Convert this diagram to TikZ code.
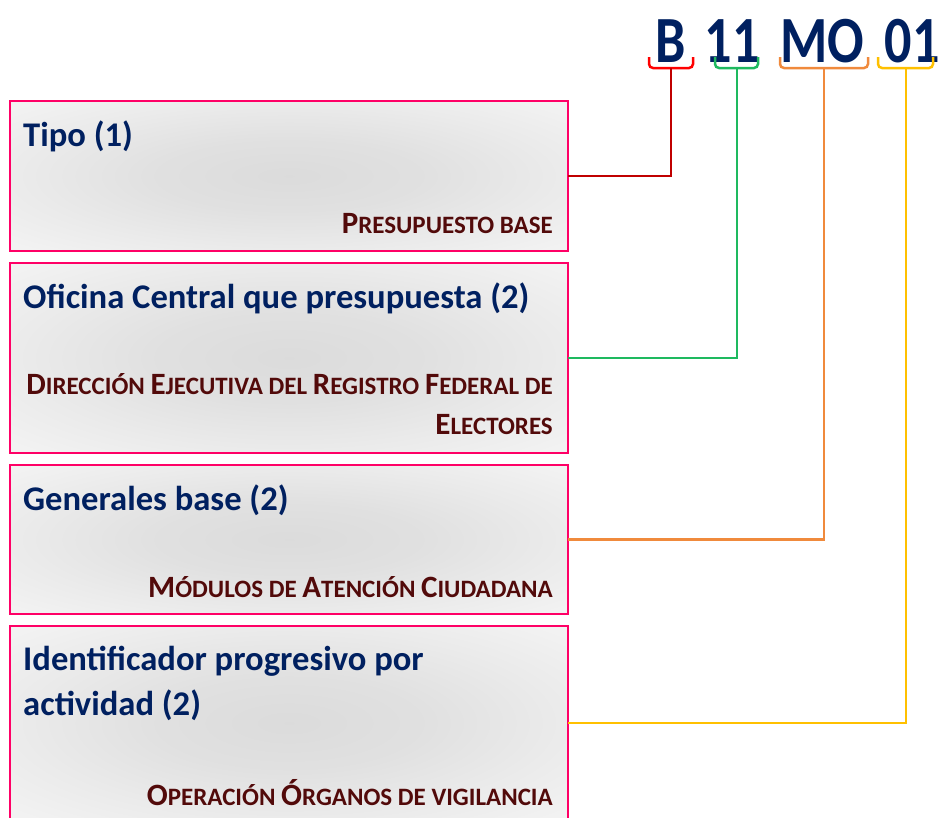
\documentclass[tikz,border=0pt]{standalone}
\usepackage{fontspec}
\setmainfont{Carlito}
\usepackage{tikz}
\usetikzlibrary{positioning}
\usepackage{xcolor}
\definecolor{ineblue}{RGB}{0,32,96}
\definecolor{inemaroon}{RGB}{82,10,10}
\definecolor{inepink}{RGB}{255,0,102}
\definecolor{kred}{RGB}{255,0,0}
\definecolor{kdred}{RGB}{192,0,0}
\definecolor{kgreen}{RGB}{30,185,95}
\definecolor{korange}{RGB}{240,138,60}
\definecolor{kyellow}{RGB}{255,192,0}
\pgfdeclareradialshading{boxglow}{\pgfpoint{0bp}{0bp}}{color(0bp)=(black!14); color(12bp)=(black!12); color(24bp)=(black!8); color(34bp)=(black!5); color(50bp)=(black!5)}
\newcommand{\sci}[1]{{\fontsize{31}{40}\selectfont #1}}  % big first letter of small caps
\newcommand{\narrow}[1]{\scalebox{0.82}[1]{#1}}          % the code letters are condensed

\begin{document}
\begin{tikzpicture}[
    x=1pt, y=-1pt,       % one unit = one pixel, y going down
    node distance=12pt,
    box/.style = {draw=inepink, line width=2.5pt, shading=boxglow, minimum width=558pt, inner sep=0pt, outer sep=0pt},
    title/.style = {font=\fontsize{34.6}{45}\selectfont\bfseries, text=ineblue, inner sep=0pt, align=left},
    sub/.style = {font=\fontsize{25}{40}\selectfont\bfseries, text=inemaroon, inner sep=0pt, align=right, text depth=0pt, anchor=south east},
    code/.style = {font=\fontsize{66}{66}\selectfont\bfseries, text=ineblue, inner sep=0pt, anchor=base},
    brace/.style = {line width=2.5pt, rounded corners=4pt},
    link/.style = {line width=2.5pt}
  ]
    \useasboundingbox (0,0) rectangle (941,817);

    % the four boxes
    \node[box, minimum height=150pt, anchor=north west] (tipo) at (10,101) {};
    \node[box, minimum height=190pt] (ofi) [below=of tipo] {};
    \node[box, minimum height=149pt] (gen) [below=of ofi] {};
    \node[box, minimum height=194pt] (ide) [below=of gen] {};   % runs past the bottom edge

    \node[title, anchor=base west] (tipoT) at ([shift={(13,45)}]tipo.north west) {Tipo (1)};
    \node[title, anchor=base west] (ofiT) at ([shift={(13,45)}]ofi.north west) {Oficina Central que presupuesta (2)};
    \node[title, anchor=base west] (genT) at ([shift={(13,45)}]gen.north west) {Generales base (2)};
    \node[title, anchor=south west, text depth=0pt] (ideT) at ([shift={(13,90)}]ide.north west) {Identificador progresivo por\\actividad (2)};

    \node[sub] (tipoS) at ([shift={(-15,-17)}]tipo.south east) {\sci{P}RESUPUESTO BASE};
    \node[sub] (ofiS) at ([shift={(-15,-18)}]ofi.south east) {\sci{D}IRECCIÓN \sci{E}JECUTIVA DEL \sci{R}EGISTRO \sci{F}EDERAL DE\\\sci{E}LECTORES};
    \node[sub] (genS) at ([shift={(-15,-16)}]gen.south east) {\sci{M}ÓDULOS DE \sci{A}TENCIÓN \sci{C}IUDADANA};
    \node[sub] (ideS) at ([shift={(-15,-14)}]ide.south east) {\sci{O}PERACIÓN \sci{Ó}RGANOS DE VIGILANCIA};

    % the code on top
    \node[code] (cB) at (671,62) {\narrow{B}};
    \node[code] (c11) at (732,62) {\narrow{11}};
    \node[code] (cMO) at (822,62) {\narrow{MO}};
    \node[code] (c01) at (912,62) {\narrow{01}};

    \coordinate (kB) at (671,68);
    \coordinate (k11) at (737,68);
    \coordinate (kMO) at (824,68);
    \coordinate (k01) at (906,68);

    \draw[brace, kred] (649,57) -- (649,68) -- (693,68) -- (693,57);
    \draw[brace, kgreen] (715,57) -- (715,68) -- (758,68) -- (758,57);
    \draw[brace, korange] (780,57) -- (780,68) -- (868,68) -- (868,57);
    \draw[brace, kyellow] (878,57) -- (878,68) -- (933,68) -- (933,57);

    \draw[link, kdred] (tipo.east) -| (kB);
    \draw[link, kgreen] (ofi.east) -| (k11);
    \draw[link, korange] (gen.east) -| (kMO);
    \draw[link, kyellow] (ide.east) -| (k01);

  \end{tikzpicture}
\end{document}
